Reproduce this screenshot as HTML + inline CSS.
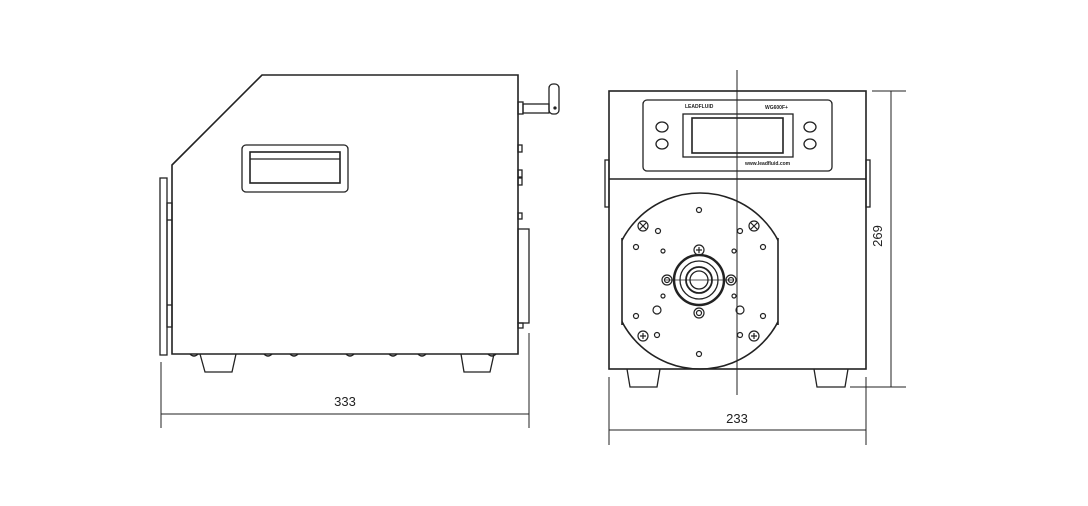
<!DOCTYPE html>
<html><head><style>html,body{margin:0;padding:0;background:#fff;}svg{display:block}</style></head><body>
<svg width="1088" height="506" viewBox="0 0 1088 506" xmlns="http://www.w3.org/2000/svg" font-family="Liberation Sans, sans-serif">
<rect width="1088" height="506" fill="#fff"/>
<g fill="none" stroke="#222" stroke-width="1.3">
<!-- SIDE VIEW -->
<path d="M172 165 L262 75 L518 75 L518 354 L172 354 Z" stroke-width="1.6"/>
<rect x="160" y="178" width="7" height="177"/>
<rect x="167" y="203" width="5" height="124"/>
<line x1="167" y1="220" x2="172" y2="220"/><line x1="167" y1="305" x2="172" y2="305"/>
<rect x="242" y="145" width="106" height="47" rx="4"/>
<rect x="250" y="152" width="90" height="31" stroke-width="1.6"/>
<line x1="250" y1="159" x2="340" y2="159"/>
<!-- antenna -->
<rect x="518" y="102" width="5" height="12"/>
<rect x="523" y="104" width="26" height="9"/>
<rect x="549" y="84" width="10" height="30" rx="4"/>
<circle cx="555" cy="108" r="1" fill="#222"/>
<rect x="518" y="145" width="4" height="7"/><rect x="518" y="170" width="4" height="7"/><rect x="518" y="178" width="4" height="7"/><rect x="518" y="213" width="4" height="6"/>
<rect x="518" y="229" width="11" height="94"/>
<rect x="518" y="323" width="5" height="5"/>
<!-- feet -->
<path d="M200 354 L205 372 L232 372 L236 354"/>
<path d="M461 354 L464 372 L490 372 L494 354"/>
<path d="M190 354 q4 4 8 0 M264 354 q4 4 8 0 M290 354 q4 4 8 0 M346 354 q4 4 8 0 M389 354 q4 4 8 0 M418 354 q4 4 8 0 M488 354 q4 4 8 0" />
<!-- dims side -->
<line x1="161" y1="362" x2="161" y2="428" stroke-width="1"/>
<line x1="529" y1="333" x2="529" y2="428" stroke-width="1"/>
<line x1="161" y1="414" x2="529" y2="414" stroke-width="1"/>
<!-- FRONT VIEW -->
<rect x="609" y="91" width="257" height="278" stroke-width="1.6"/>
<line x1="609" y1="179" x2="866" y2="179" stroke-width="1.6"/>
<rect x="605" y="160" width="4" height="47"/><rect x="866" y="160" width="4" height="47"/>
<rect x="643" y="100" width="189" height="71" rx="4"/>
<rect x="683" y="114" width="110" height="43"/>
<rect x="692" y="118" width="91" height="35" stroke-width="1.6"/>
<ellipse cx="662" cy="127" rx="6" ry="5"/><ellipse cx="662" cy="144" rx="6" ry="5"/>
<ellipse cx="810" cy="127" rx="6" ry="5"/><ellipse cx="810" cy="144" rx="6" ry="5"/>
<!-- pump head -->
<clipPath id="c"><rect x="622" y="180" width="156" height="200"/></clipPath>
<circle cx="700" cy="281" r="88" clip-path="url(#c)" stroke-width="1.6"/>
<line x1="622" y1="238" x2="622" y2="325" stroke-width="1.6"/>
<line x1="778" y1="238" x2="778" y2="325" stroke-width="1.6"/>
<circle cx="699" cy="280" r="25" stroke-width="2.5"/>
<circle cx="699" cy="280" r="19"/>
<circle cx="699" cy="280" r="13" stroke-width="1.8"/>
<circle cx="699" cy="280" r="9"/>
<line x1="665" y1="280" x2="733" y2="280" stroke-width="0.8"/>
<g stroke-width="1.2">
<circle cx="643" cy="226" r="5"/><circle cx="754" cy="226" r="5"/><circle cx="643" cy="336" r="5"/><circle cx="754" cy="336" r="5"/><circle cx="699" cy="250" r="5"/>
<path d="M640 223l6 6M646 223l-6 6M751 223l6 6M757 223l-6 6M640 336h6M643 333v6M751 336h6M754 333v6M696 250h6M699 247v6"/>
<circle cx="667" cy="280" r="5"/><circle cx="667" cy="280" r="2.5"/>
<circle cx="731" cy="280" r="5"/><circle cx="731" cy="280" r="2.5"/>
<circle cx="699" cy="313" r="5"/><circle cx="699" cy="313" r="2.5"/>
<circle cx="699" cy="210" r="2.5"/><circle cx="658" cy="231" r="2.5"/><circle cx="740" cy="231" r="2.5"/>
<circle cx="636" cy="247" r="2.5"/><circle cx="763" cy="247" r="2.5"/>
<circle cx="663" cy="251" r="2"/><circle cx="734" cy="251" r="2"/><circle cx="663" cy="296" r="2"/><circle cx="734" cy="296" r="2"/>
<circle cx="657" cy="310" r="4"/><circle cx="740" cy="310" r="4"/>
<circle cx="636" cy="316" r="2.5"/><circle cx="763" cy="316" r="2.5"/>
<circle cx="657" cy="335" r="2.5"/><circle cx="740" cy="335" r="2.5"/>
<circle cx="699" cy="354" r="2.5"/>
</g>
<path d="M627 369 L630 387 L657 387 L660 369"/>
<path d="M814 369 L817 387 L845 387 L848 369"/>
<line x1="737" y1="70" x2="737" y2="395" stroke-width="1"/>
<!-- dims front -->
<line x1="609" y1="377" x2="609" y2="445" stroke-width="1"/>
<line x1="866" y1="377" x2="866" y2="445" stroke-width="1"/>
<line x1="609" y1="430" x2="866" y2="430" stroke-width="1"/>
<line x1="872" y1="91" x2="906" y2="91" stroke-width="1"/>
<line x1="850" y1="387" x2="906" y2="387" stroke-width="1"/>
<line x1="891" y1="91" x2="891" y2="387" stroke-width="1"/>
</g>
<g fill="#222" font-size="5" font-weight="bold">
<text x="685" y="108">LEADFLUID</text>
<text x="765" y="109">WG600F+</text>
<text x="745" y="165">www.leadfluid.com</text>
</g>
<g fill="#222" font-size="13">
<text x="345" y="406" text-anchor="middle">333</text>
<text x="737" y="423" text-anchor="middle">233</text>
<text x="0" y="0" text-anchor="middle" transform="translate(882,236) rotate(-90)">269</text>
</g>
</svg>
</body></html>
